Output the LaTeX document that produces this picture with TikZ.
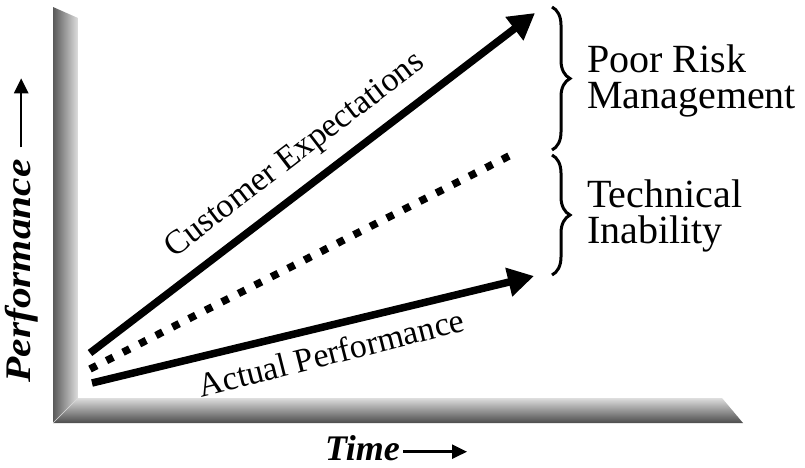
\documentclass[tikz,border=0pt]{standalone}
\usepackage{graphicx}
\usepackage{fontspec}
\setmainfont{Liberation Serif}
\usetikzlibrary{arrows.meta,decorations.pathreplacing}

\begin{document}
\begin{tikzpicture}[x=1pt, y=1pt, trend/.style={line width=7.5pt, -{Triangle[length=26pt, width=28pt]}}, gapline/.style={line width=7.5pt, dash pattern=on 7.5pt off 11pt}, brc/.style={decorate, decoration={brace, amplitude=18pt}, line width=3pt}, lbl/.style={font=\fontsize{34}{36}\selectfont, inner sep=0pt, anchor=base}, side/.style={font=\fontsize{40}{35.5}\selectfont, align=left, inner sep=0pt, anchor=base west}, axl/.style={font=\fontsize{36}{38}\selectfont\bfseries\itshape, inner sep=0pt}, axarr/.style={line width=2.5pt, -{Triangle[length=15pt, width=14pt]}}]
\useasboundingbox (0,0) rectangle (805,-467);
% shaded frame
\shade[left color=black!65, right color=black!13] (53,-7) -- (78,-18) -- (78,-398) -- (53,-423) -- cycle;
\shade[top color=black!13, bottom color=black!70] (53,-423) -- (78,-398) -- (722,-398) -- (743,-423) -- cycle;
\draw[white!70!gray, line width=0.6pt] (53,-423) -- (78,-398);
% lines
\coordinate (ce0) at (90,-353); \coordinate (ce1) at (535,-13);
\coordinate (ti0) at (90,-369); \coordinate (ti1) at (511,-155);
\coordinate (ap0) at (92,-383); \coordinate (ap1) at (534,-276);
\draw[trend] (ce0) -- (ce1);
\draw[gapline] (ti0) -- (ti1);
\draw[trend] (ap0) -- (ap1);
\node[lbl, rotate=37.4] (cust) at (300,-162) {Customer Expectations};
\node[lbl, rotate=14.2] (act) at (334,-364) {Actual Performance};
% braces
\draw[brc] (552,-7) -- (552,-150);
\draw[brc] (552,-155) -- (552,-275);
\node[side] (risk) at (587,-108) {Poor Risk\\Management};
\node[side] (tech) at (587,-243) {Technical\\Inability};
% axis labels
\node[axl, rotate=90, anchor=base] (perf) at (30,-271) {\scalebox{1.15}[1]{Performance}};
\draw[axarr] (perf.east) ++(0,12) -- ++(0,69);
\node[axl, anchor=base west] (time) at (325,-460) {Time};
\draw[axarr] ([xshift=3pt, yshift=-4pt]time.east) -- ++(64,0);
\end{tikzpicture}
\end{document}
